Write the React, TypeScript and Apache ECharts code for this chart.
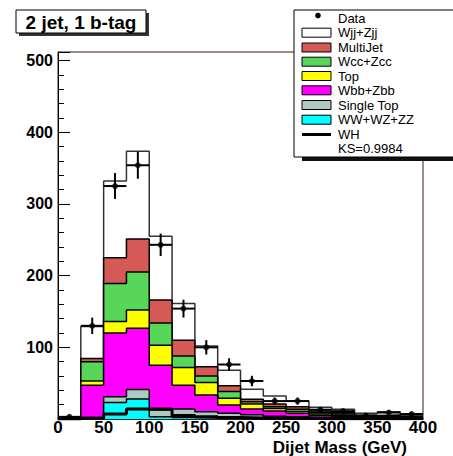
import React, { useEffect, useRef } from "react";
import * as echarts from "echarts";

// Histogram binning (GeV)
const binEdges = [0, 25, 50, 75, 100, 125, 150, 175, 200, 225, 250, 275, 300, 325, 350, 375, 400];

// Individual background components per bin (events)
const dibosonWW = [0, 1, 23, 28, 3, 2, 1.5, 1, 0.5, 0.5, 0.3, 0.2, 0.1, 0.1, 0.1, 0.1];
const singleTop = [0, 1, 8, 13, 9.5, 12, 8.5, 7, 5.5, 3.5, 2.7, 1.8, 1.4, 0.9, 0.7, 0.4];
const wbbZbb = [0.5, 45, 89, 85.5, 62.5, 33, 23.5, 11.5, 8, 7, 5, 3, 2, 1, 1.2, 0.5];
const topPair = [0.3, 6, 16, 25.5, 28, 25, 17.5, 9.5, 7, 3.5, 2.5, 2, 1.5, 1, 1, 1];
const wccZcc = [0.2, 27, 53, 53, 31, 16, 9, 9.5, 3, 2.5, 3, 2, 2, 1, 1, 1];
const multiJet = [0.2, 4.5, 36, 46, 32, 22, 13, 8, 3.5, 4, 3.5, 2, 2, 1, 1.5, 1];
const wjjZjj = [0.8, 44.5, 107, 122.5, 89, 51, 29, 21.5, 14, 11, 8, 5.5, 4.5, 3, 4.5, 1.5];
const whSignal = [0, 1, 7, 14, 14, 5, 3, 2, 1.5, 1, 1, 0.5, 0.5, 0.3, 0.3, 0.2];
const dataCounts = [3, 130, 325, 354, 243, 154, 100, 76, 53, 25, 25, 13, 11, 5, 9, 7];

// Legend / text
const legendLabels = ["Data", "Wjj+Zjj", "MultiJet", "Wcc+Zcc", "Top", "Wbb+Zbb", "Single Top", "WW+WZ+ZZ", "WH", "KS=0.9984"];
const titleText = "2 jet, 1 b-tag";
const xTitle = "Dijet Mass (GeV)";

const FONT = "'Liberation Sans', Arial, Helvetica, sans-serif";

const COLORS = {
  wjj: "#ffffff",
  multijet: "#d55a55",
  wcc: "#58d658",
  top: "#ffff00",
  wbb: "#ff00ff",
  stop: "#aec9c0",
  ww: "#00ffff",
};

function stepData(vals: number[]) {
  return binEdges.map((e, i) => [e, vals[Math.min(i, vals.length - 1)]]);
}

function cumulative(list: number[][]) {
  return list[0].map((_, i) => list.reduce((s, a) => s + a[i], 0));
}

export default function App() {
  const ref = useRef<HTMLDivElement>(null);

  useEffect(() => {
    if (!ref.current) return;
    const chart = echarts.init(ref.current, null, { renderer: "svg" });

    const stackOrder = [dibosonWW, singleTop, wbbZbb, topPair, wccZcc, multiJet, wjjZjj];
    const cumWW = cumulative(stackOrder.slice(0, 1));
    const cumST = cumulative(stackOrder.slice(0, 2));
    const cumWbb = cumulative(stackOrder.slice(0, 3));
    const cumTop = cumulative(stackOrder.slice(0, 4));
    const cumWcc = cumulative(stackOrder.slice(0, 5));
    const cumMJ = cumulative(stackOrder.slice(0, 6));
    const cumAll = cumulative(stackOrder.slice(0, 7));

    const stackSeries = [
      { vals: cumAll, color: COLORS.wjj, line: "#333" },
      { vals: cumMJ, color: COLORS.multijet, line: "#000" },
      { vals: cumWcc, color: COLORS.wcc, line: "#000" },
      { vals: cumTop, color: COLORS.top, line: "#000" },
      { vals: cumWbb, color: COLORS.wbb, line: "#000" },
      { vals: cumST, color: COLORS.stop, line: "#000" },
      { vals: cumWW, color: COLORS.ww, line: "#000" },
    ].map((s, k) => ({
      type: "line",
      step: "end",
      data: stepData(s.vals),
      symbol: "none",
      silent: true,
      z: 2 + k * 0.01,
      lineStyle: { color: s.line, width: 1.5 },
      areaStyle: { color: s.color, opacity: 1 },
    }));

    const dataPts = dataCounts.map((v, i) => {
      const c = (binEdges[i] + binEdges[i + 1]) / 2;
      const hw = (binEdges[i + 1] - binEdges[i]) / 2;
      return [c, v, Math.sqrt(v), hw];
    });

    const legendRowsY = [18, 32.7, 47.5, 61.7, 76, 90.3, 105, 119.7, 134.5, 148.5];
    const boxColors = [COLORS.wjj, COLORS.multijet, COLORS.wcc, COLORS.top, COLORS.wbb, COLORS.stop, COLORS.ww];
    const legendX = 294;
    const textX = 338;
    const legendChildren: any[] = [
      { type: "rect", shape: { x: legendX + 8, y: 13, width: 200, height: 148 }, style: { fill: "#111" }, z: 100 },
      { type: "rect", shape: { x: legendX, y: 10, width: 200, height: 147 }, style: { fill: "#fff", stroke: "#000", lineWidth: 1 }, z: 101 },
      { type: "circle", shape: { cx: 318, cy: 15.5, r: 2.8 }, style: { fill: "#000" }, z: 102 },
    ];
    boxColors.forEach((c, i) => {
      legendChildren.push({
        type: "rect",
        shape: { x: 302, y: legendRowsY[i + 1] - 4.5, width: 29, height: 9 },
        style: { fill: c, stroke: "#000", lineWidth: 1 },
        z: 102,
      });
    });
    legendChildren.push({
      type: "line",
      shape: { x1: 302, y1: legendRowsY[8], x2: 331, y2: legendRowsY[8] },
      style: { stroke: "#000", lineWidth: 3 },
      z: 102,
    });
    legendLabels.forEach((t, i) => {
      legendChildren.push({
        type: "text",
        x: textX,
        y: legendRowsY[i],
        style: { text: t, fontFamily: FONT, fontSize: 13, lineHeight: 12, fill: "#000", textVerticalAlign: "middle", verticalAlign: "middle" },
        z: 102,
      });
    });

    const option: any = {
      animation: false,
      backgroundColor: "#fff",
      grid: {
        left: 58,
        right: 30,
        top: 52,
        bottom: 37,
        show: true,
        borderColor: "#3a1818",
        borderWidth: 1,
        backgroundColor: "transparent",
      },
      xAxis: {
        type: "value",
        min: 0,
        max: 400,
        interval: 50,
        axisLine: { show: true, onZero: false, lineStyle: { color: "#000", width: 1.5 } },
        axisTick: { show: false },
        splitLine: { show: false },
        axisLabel: { fontFamily: FONT, fontWeight: "bold", fontSize: 17, lineHeight: 13, color: "#000", margin: 2 },
      },
      yAxis: {
        type: "value",
        min: 0,
        max: 512,
        interval: 100,
        axisLine: { show: true, lineStyle: { color: "#000", width: 1 } },
        axisTick: { show: true, inside: true, length: 12, lineStyle: { color: "#000", width: 1 } },
        minorTick: { show: true, splitNumber: 5, length: 6, lineStyle: { color: "#000", width: 1 } },
        splitLine: { show: false },
        minorSplitLine: { show: false },
        axisLabel: {
          fontFamily: FONT,
          fontWeight: "bold",
          fontSize: 16,
          color: "#000",
          margin: 5,
          formatter: (v: number) => (v > 0 && v % 100 === 0 ? String(v) : ""),
        },
      },
      series: [
        ...stackSeries,
        {
          type: "line",
          step: "end",
          data: stepData(whSignal),
          symbol: "none",
          silent: true,
          z: 3,
          lineStyle: { color: "#000", width: 3 },
        },
        {
          type: "custom",
          data: dataPts,
          encode: { x: 0, y: 1 },
          silent: true,
          z: 4,
          renderItem: (params: any, api: any) => {
            const x = api.value(0);
            const y = api.value(1);
            const e = api.value(2);
            const hw = api.value(3);
            const top = api.coord([x, y + e]);
            const bot = api.coord([x, Math.max(0, y - e)]);
            const l = api.coord([x - hw, y]);
            const r = api.coord([x + hw, y]);
            return {
              type: "group",
              children: [
                { type: "line", shape: { x1: top[0], y1: top[1], x2: bot[0], y2: bot[1] }, style: { stroke: "#000", lineWidth: 2 } },
                { type: "line", shape: { x1: l[0], y1: l[1], x2: r[0], y2: r[1] }, style: { stroke: "#000", lineWidth: 2 } },
              ],
            };
          },
        },
        {
          type: "scatter",
          data: dataPts.map((p) => [p[0], p[1]]),
          symbol: "circle",
          symbolSize: 6,
          silent: true,
          z: 5,
          itemStyle: { color: "#000" },
        },
      ],
      graphic: [
        { type: "rect", shape: { x: 19, y: 13, width: 130, height: 23 }, style: { fill: "#333" }, z: 100 },
        { type: "rect", shape: { x: 16, y: 10, width: 130, height: 23 }, style: { fill: "#fff", stroke: "#000", lineWidth: 1 }, z: 101 },
        {
          type: "text",
          x: 81,
          y: 22,
          style: { text: titleText, fontFamily: FONT, fontWeight: "bold", fontSize: 19, fill: "#000", textAlign: "center", align: "center", verticalAlign: "middle", textVerticalAlign: "middle" },
          z: 102,
        },
        ...legendChildren,
        {
          type: "text",
          x: 407,
          y: 447,
          style: { text: xTitle, fontFamily: FONT, fontWeight: "bold", fontSize: 17, lineHeight: 14, fill: "#000", align: "right", textAlign: "right", verticalAlign: "middle", textVerticalAlign: "middle" },
          z: 102,
        },
      ],
    };

    chart.setOption(option);
    return () => chart.dispose();
  }, []);

  return <div ref={ref} style={{ width: 453, height: 456, position: "absolute", left: 0, top: 0 }} />;
}
